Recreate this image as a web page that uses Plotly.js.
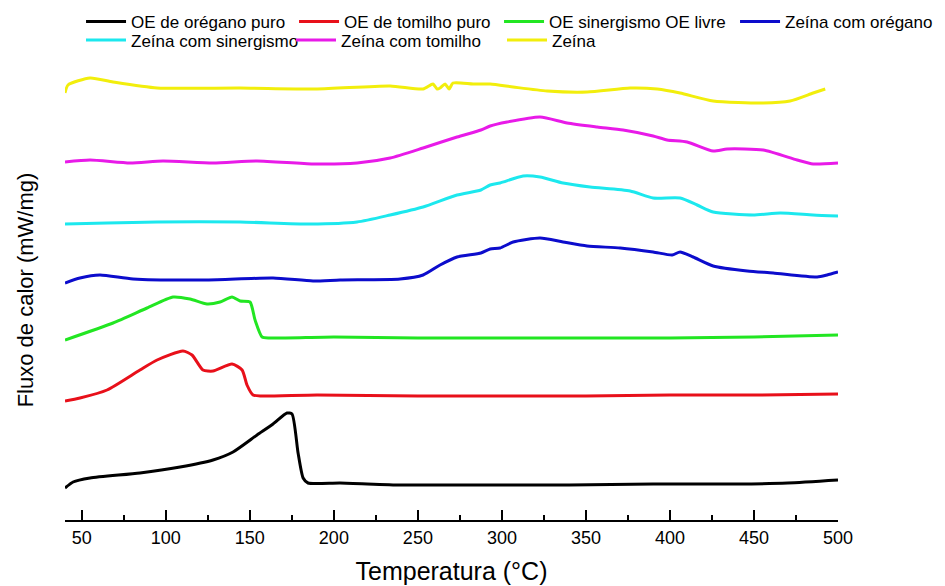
<!DOCTYPE html>
<html>
<head>
<meta charset="utf-8">
<script src="https://cdn.plot.ly/plotly-3.0.1.min.js"></script>
<style>html,body{margin:0;padding:0;background:#fff;}#chart{width:945px;height:586px;}</style>
</head>
<body>
<div id="chart"></div>
<script>
// Temperature (°C) and heat flow (arbitrary offset units)
const names = ["OE de orégano puro", "OE de tomilho puro", "OE sinergismo OE livre", "Zeína com orégano",
               "Zeína com sinergismo", "Zeína com tomilho", "Zeína"];
const colors = ["#000000", "#e8101a", "#22e622", "#0c0ccc", "#1ce8ee", "#e81ae8", "#f2ee0c"];

const tOregano = [40, 44.8, 54.9, 84.6, 108.5, 128.1, 140, 154.3, 163.8, 172.1, 175.1, 178.7, 181.7, 184.6, 203.7, 240, 290, 340, 390, 440, 470, 500];
const yOregano = [31, 37, 41, 46, 52, 59, 67, 84, 95, 106, 105, 66, 41, 36, 36, 34, 34, 34, 35, 35, 36, 39];

const tTomilho = [40, 48.9, 65, 84.6, 94.8, 110.2, 115.6, 122.1, 128.1, 139.4, 145.4, 148.3, 151.9, 157, 190, 250, 300, 350, 400, 450, 500];
const yTomilho = [118, 121, 129, 149, 159, 168, 164, 149, 148, 155, 149, 134, 124, 123, 124, 123, 123, 123, 124, 124, 125];

const tSinerg = [40, 68.6, 88.8, 104.3, 114.4, 124.5, 132.3, 139.4, 144.2, 150.1, 153.1, 157.3, 162, 200, 250, 300, 350, 400, 450, 500];
const ySinerg = [179, 196, 211, 222, 220, 215, 217, 222, 218, 217, 199, 182, 181, 182, 181, 181, 181, 181, 182, 184];

const tZeinaOreg = [40, 48.9, 60.8, 80.5, 124.5, 163.8, 187.6, 203.7, 239.4, 253.1, 263.2, 273.3, 287.5, 293, 298.9, 306.7, 322.7, 336.4, 350.7, 370.4, 390, 401.3, 406, 413.8, 425.7, 446, 461.4, 487.6, 493.5, 500];
const yZeinaOreg = [236, 241, 244, 240, 239, 241, 238, 239, 240, 244, 254, 262, 266, 270, 271, 277, 281, 277, 273, 271, 267, 264, 267, 262, 253, 248, 246, 242, 244, 247];

const tZeinaSin = [40, 65, 94.8, 144.2, 185.8, 213.8, 233.5, 253.1, 273.3, 287.5, 293, 298.9, 312.6, 322.7, 336.4, 352.5, 376.3, 390, 406, 416.2, 425.7, 449.5, 465.6, 485.2, 500];
const yZeinaSin = [295, 296, 297, 297, 295, 297, 304, 312, 324, 329, 334, 336, 343, 342, 336, 332, 328, 321, 321, 314, 307, 304, 306, 304, 303];

const tZeinaTom = [40, 54.9, 78.7, 98.3, 128.1, 154.3, 187.6, 213.8, 233.5, 253.1, 273.3, 287.5, 293, 303.1, 322.7, 338.8, 356.7, 372.1, 390, 398.3, 410.2, 425.7, 434, 455.5, 475.7, 485.2, 500];
const yZeinaTom = [357, 359, 356, 358, 356, 358, 355, 356, 361, 371, 382, 389, 393, 397, 402, 396, 392, 389, 383, 379, 377, 368, 370, 369, 359, 355, 356];

const tZeina = [40, 41.8, 54.9, 68.6, 94.8, 144.2, 190, 233.5, 253.1, 259, 261.4, 263.2, 266.2, 268.6, 270.9, 282.9, 293, 306.7, 326.9, 350.7, 376.3, 392.4, 406, 425.7, 455.5, 471.5, 485.2, 492.4];
const yZeina = [426, 434, 441, 437, 431, 431, 430, 433, 430, 435, 430, 431, 435, 430, 436, 435, 435, 432, 428, 427, 431, 430, 426, 418, 416, 418, 426, 430];

const xTickVals = [50, 100, 150, 200, 250, 300, 350, 400, 450, 500];

const series = [
  [tOregano, yOregano], [tTomilho, yTomilho], [tSinerg, ySinerg], [tZeinaOreg, yZeinaOreg],
  [tZeinaSin, yZeinaSin], [tZeinaTom, yZeinaTom], [tZeina, yZeina]
];
// legend rows and entry widths (styling)
const legendOf = ['legend', 'legend', 'legend', 'legend', 'legend2', 'legend2', 'legend2'];
const entryW = [158, 150, 181, 150, 155, 156, 60];

const traces = series.map((s, i) => ({
  type: 'scatter', mode: 'lines', x: s[0], y: s[1], name: names[i],
  legend: legendOf[i], legendwidth: entryW[i],
  line: {color: colors[i], width: 3, shape: 'spline', smoothing: 0.6}
}));

const legendCommon = {
  orientation: 'h', font: {size: 17, color: '#000'},
  itemwidth: 40, entrywidthmode: 'pixels', bgcolor: 'rgba(0,0,0,0)', borderwidth: 0
};

const layout = {
  width: 945, height: 586,
  margin: {l: 65, r: 107, t: 60, b: 66, autoexpand: false},
  paper_bgcolor: '#ffffff', plot_bgcolor: '#ffffff',
  font: {family: 'Liberation Sans, Arial, sans-serif', color: '#000000'},
  showlegend: true,
  legend: Object.assign({}, legendCommon, {xref: 'paper', yref: 'paper', x: 1.132, xanchor: 'right', y: 1.1217, yanchor: 'top'}),
  legend2: Object.assign({}, legendCommon, {xref: 'paper', yref: 'paper', x: 0.0207, xanchor: 'left', y: 1.0815, yanchor: 'top'}),
  xaxis: {
    range: [40, 500], tickvals: xTickVals, ticktext: xTickVals.map(String),
    showline: true, linecolor: '#000', linewidth: 2, mirror: false,
    ticks: 'inside', ticklen: 10, tickwidth: 2, tickcolor: '#000',
    minor: {dtick: 25, tick0: 25, ticks: 'inside', ticklen: 5, tickwidth: 2, tickcolor: '#000'},
    showgrid: false, zeroline: false,
    tickfont: {size: 18, color: '#000'},
    title: {text: 'Temperatura (°C)', font: {size: 25, color: '#000'}, standoff: 16}
  },
  yaxis: {
    range: [-1, 459], showline: false, showticklabels: false, ticks: '',
    showgrid: false, zeroline: false,
    title: {text: '\u2003\u2002Fluxo de calor (mW/mg)', font: {size: 22, color: '#000'}, standoff: 24}
  }
};

Plotly.newPlot('chart', traces, layout, {displayModeBar: false, staticPlot: true});
</script>
</body>
</html>
